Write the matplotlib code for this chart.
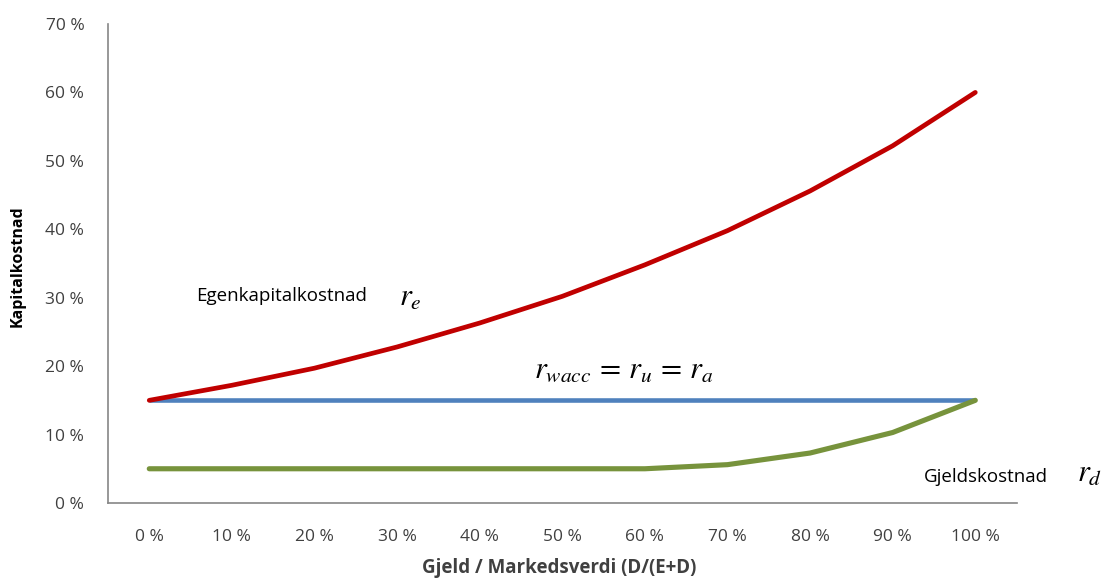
import numpy as np
import matplotlib.pyplot as plt

# Andel gjeld (kategoriakse) og kapitalkostnader i prosent
gjeldsandel = ['0 %', '10 %', '20 %', '30 %', '40 %', '50 %', '60 %', '70 %', '80 %', '90 %', '100 %']
r_e = [15.0, 17.2, 19.7, 22.8, 26.3, 30.2, 34.8, 39.8, 45.6, 52.2, 60.0]
r_wacc = [15.0, 15.0, 15.0, 15.0, 15.0, 15.0, 15.0, 15.0, 15.0, 15.0, 15.0]
r_d = [5.0, 5.0, 5.0, 5.0, 5.0, 5.0, 5.0, 5.6, 7.3, 10.3, 15.0]
y_ticks = [0, 10, 20, 30, 40, 50, 60, 70]

plt.rcParams['font.family'] = ['Open Sans', 'DejaVu Sans']
plt.rcParams['mathtext.fontset'] = 'stix'

fig = plt.figure(figsize=(11.05, 5.81), dpi=100)
ax = fig.add_axes([0.0977, 0.1343, 0.8223, 0.8244])

x = np.arange(len(gjeldsandel))
ax.plot(x, r_wacc, color='#4f81bd', lw=3.3, solid_capstyle='butt', zorder=2)
ax.plot(x, r_d, color='#77933c', lw=3.7, solid_capstyle='round', zorder=3)
ax.plot(x, r_e, color='#c00000', lw=3.4, solid_capstyle='round', zorder=4)

ax.set_xlim(-0.5, 10.5)
ax.set_ylim(0, 70)
ax.set_xticks(x)
ax.set_xticklabels(gjeldsandel)
ax.set_yticks(y_ticks)
ax.set_yticklabels([f'{v} %' for v in y_ticks])
ax.tick_params(length=0, labelsize=12.5, colors='#404040')
ax.tick_params(axis='x', pad=19)
ax.tick_params(axis='y', pad=17)

for side in ['top', 'right']:
    ax.spines[side].set_visible(False)
for side in ['left', 'bottom']:
    ax.spines[side].set_color('#868686')
    ax.spines[side].set_linewidth(1.2)

ax.set_ylabel('Kapitalkostnad', fontsize=11.5, fontweight='bold', va='center')
ax.yaxis.set_label_coords(-0.099, 0.495)
ax.set_xlabel('Gjeld / Markedsverdi (D/(E+D)', fontsize=13.5, fontweight='bold',
              color='#404040', va='center')
ax.xaxis.set_label_coords(0.497, -0.135)

# Tekst ved kurvene
ax.text(0.57, 30.3, 'Egenkapitalkostnad', fontsize=13.5, va='center')
ax.text(3.02, 30.0, r'$r_e$', fontsize=22, va='center')
ax.text(5.74, 19.4, r'$r_{wacc}\,=\,r_u\,=\,r_a$', fontsize=22, ha='center', va='center')
ax.text(9.38, 3.8, 'Gjeldskostnad', fontsize=13.5, va='center')
ax.text(11.23, 4.3, r'$r_d$', fontsize=22, va='center', clip_on=False)

fig.savefig('out.png', dpi=100)
